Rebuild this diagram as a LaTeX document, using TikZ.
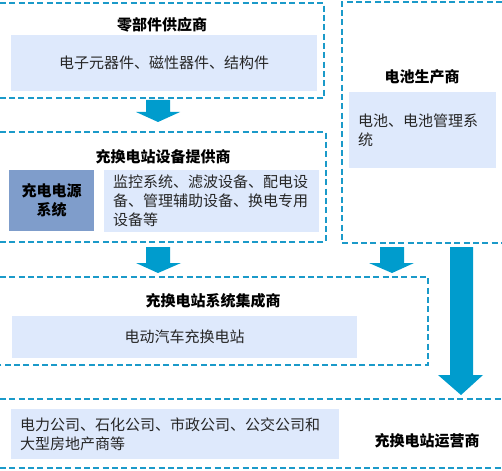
\documentclass[tikz,border=0pt]{standalone}
\usepackage{fontspec}
\setmainfont{Noto Sans CJK SC}
\definecolor{dashblue}{HTML}{1B9AC9}
\definecolor{arrowblue}{HTML}{009CCD}
\definecolor{lightbox}{HTML}{DEE9FC}
\definecolor{darkbox}{HTML}{7F9DCB}
\definecolor{bodytext}{HTML}{262626}
\tikzset{
  frame/.style={draw=dashblue, line width=0.8pt, dash pattern=on 4.5pt off 2.5pt},
  titletext/.style={font=\fontsize{11.25pt}{14.25pt}\selectfont\bfseries, text=black, inner sep=0pt},
  litebox/.style={fill=lightbox, draw=none, inner sep=0pt, font=\fontsize{11.25pt}{14.25pt}\selectfont, text=bodytext, align=left},
  darkpanel/.style={fill=darkbox, draw=none, inner sep=0pt, font=\fontsize{11.25pt}{14.25pt}\selectfont\bfseries, text=black, align=center},
  blockarrow/.style={fill=arrowblue, draw=none}
}
\begin{document}
\begin{tikzpicture}[x=0.75pt,y=-0.75pt]
\useasboundingbox (0,0) rectangle (502,470);

% dashed frames
\draw[frame] (0,3) -- (324,3) -- (324,98) -- (0,98);
\draw[frame] (0,132) -- (326,132) -- (326,242) -- (0,242);
\draw[frame] (502,2) -- (342,2) -- (342,243) -- (502,243);
\draw[frame] (0,277) -- (428,277) -- (428,365) -- (0,365);
\draw[frame] (0,399) -- (502,399);
\draw[frame] (0,468) -- (502,468);

% block 1
\node[titletext] (t1) at (162,25) {零部件供应商};
\node[litebox, minimum width=229.5pt, minimum height=42pt, align=center] (b1) at (164,63) {电子元器件、磁性器件、结构件};

% block 2
\node[titletext] (t2) at (163,157) {充换电站设备提供商};
\node[darkpanel, minimum width=63.75pt, minimum height=45.75pt] (d2) at (51.5,200.5) {充电电源\\系统};
\node[litebox, minimum width=161.25pt, minimum height=45.75pt, text width=147.75pt] (b2) at (211.5,201) {监控系统、滤波设备、配电设\\备、管理辅助设备、换电专用\\设备等};

% block 3
\node[titletext] (t3) at (422,77) {电池生产商};
\node[litebox, minimum width=110.25pt, minimum height=57pt, text width=96.75pt] (b3) at (422.5,130) {电池、电池管理系\\统};

% block 4
\node[titletext] (t4) at (213,301) {充换电站系统集成商};
\node[litebox, minimum width=258.75pt, minimum height=31.5pt, align=center] (b4) at (184.5,337) {电动汽车充换电站};

% block 5
\node[litebox, minimum width=246pt, minimum height=37.5pt, text width=232.5pt] (b5) at (175,434) {电力公司、石化公司、市政公司、公交公司和\\大型房地产商等};
\node[titletext] (t5) at (427,441) {充换电站运营商};

% block arrows
\fill[blockarrow] (146,100) -- (170,100) -- (170,112) -- (180,112) -- (158,122) -- (136,112) -- (146,112) -- cycle;
\fill[blockarrow] (146,247) -- (170,247) -- (170,263) -- (181,263) -- (158,273) -- (136,263) -- (146,263) -- cycle;
\fill[blockarrow] (380,247) -- (404,247) -- (404,263) -- (414,263) -- (392,273) -- (369,263) -- (380,263) -- cycle;
\fill[blockarrow] (450,247) -- (473,247) -- (473,375) -- (483,375) -- (461,395) -- (438,375) -- (450,375) -- cycle;
\end{tikzpicture}
\end{document}
